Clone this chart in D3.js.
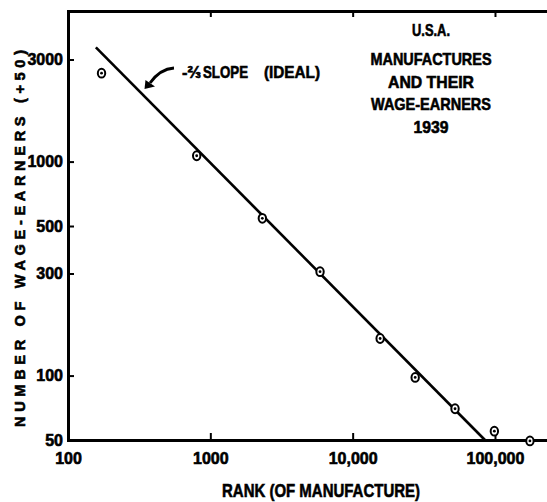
<!DOCTYPE html>
<html>
<head>
<meta charset="utf-8">
<script src="https://cdn.jsdelivr.net/npm/d3@7"></script>
<style>
  html, body { margin: 0; padding: 0; background: #fff; }
  svg { display: block; }
  text { font-family: "Liberation Sans", Arial, sans-serif; font-weight: bold; fill: #000; stroke: #000; stroke-width: 0.6px; }
</style>
</head>
<body>
<svg id="chart" width="547" height="502"></svg>
<script>
// Rank of manufacture vs. number of wage-earners (+50), U.S.A. 1939
const rankValues   = [172, 802, 2320, 5900, 15600, 27500, 52400, 99000, 176000];
const wageEarners  = [2590, 1065, 543, 306, 149, 98, 70, 55, 49.5];

// ideal -2/3 slope reference line (end points)
const idealRank    = [157, 85000];
const idealEarners = [3420, 50];

const xTickValues = [100, 1000, 10000, 100000];
const xTickLabels = ["100", "1000", "10,000", "100,000"];
const yTickValues = [50, 100, 300, 500, 1000, 3000];
const yTickLabels = ["50", "100", "300", "500", "1000", "3000"];

const titleLines = ["U.S.A.", "MANUFACTURES", "AND THEIR", "WAGE-EARNERS", "1939"];

const plotLeft = 68, plotTop = 11, plotBottom = 440, plotRight = 547;

const svg = d3.select("#chart");

const x = d3.scaleLog().domain([100, 232000]).range([plotLeft, plotRight]);
const y = d3.scaleLog().domain([50, 5055]).range([plotBottom, plotTop]);

// frame: left, top, bottom axes
const yAxis = d3.axisLeft(y)
  .tickValues(yTickValues)
  .tickFormat((d, i) => yTickLabels[i])
  .tickSizeInner(-6).tickSizeOuter(0).tickPadding(5);
const gy = svg.append("g").attr("transform", `translate(${plotLeft},0)`).call(yAxis);

const xAxis = d3.axisBottom(x)
  .tickValues(xTickValues)
  .tickFormat((d, i) => xTickLabels[i])
  .tickSizeInner(-7).tickSizeOuter(0).tickPadding(13);
const gx = svg.append("g").attr("transform", `translate(0,${plotBottom})`).call(xAxis);

const xTop = d3.axisTop(x)
  .tickValues(xTickValues.slice(1))
  .tickFormat("")
  .tickSizeInner(-6).tickSizeOuter(0);
const gt = svg.append("g").attr("transform", `translate(0,${plotTop})`).call(xTop);

[gx, gy, gt].forEach(g => {
  g.select(".domain").attr("stroke", "#000").attr("stroke-width", 3).attr("stroke-linecap", "square");
  g.selectAll(".tick line").attr("stroke", "#000").attr("stroke-width", 2);
  g.selectAll("text")
    .style("font-family", '"Liberation Sans", Arial, sans-serif')
    .style("font-weight", "bold")
    .attr("font-size", 16)
    .attr("fill", "#000")
    .attr("stroke", "#000")
    .attr("stroke-width", 0.6);
});
// the outermost ticks coincide with the frame corners
gy.selectAll(".tick line").filter(d => d === 50).remove();
gx.selectAll(".tick line").filter(d => d === 100).remove();

// ideal slope line
const line = d3.line().x(d => x(d[0])).y(d => y(d[1]));
svg.append("path")
  .datum(d3.zip(idealRank, idealEarners))
  .attr("d", line)
  .attr("fill", "none")
  .attr("stroke", "#000")
  .attr("stroke-width", 2.6);

// observed points: ringed dots
const pts = svg.append("g").selectAll("g")
  .data(d3.zip(rankValues, wageEarners))
  .join("g")
  .attr("transform", d => `translate(${x(d[0])},${y(d[1])})`);
pts.append("ellipse").attr("rx", 3.7).attr("ry", 4.4)
  .attr("fill", "#fff").attr("stroke", "#000").attr("stroke-width", 2);
pts.append("circle").attr("r", 1.4).attr("fill", "#000");

// annotation for the ideal line
const ann = svg.append("g");
ann.append("text").attr("x", 182).attr("y", 78).attr("font-size", 17)
  .attr("textLength", 19).attr("lengthAdjust", "spacingAndGlyphs").text("-⅔");
ann.append("text").attr("x", 203).attr("y", 78).attr("font-size", 17)
  .attr("textLength", 45).attr("lengthAdjust", "spacingAndGlyphs").text("SLOPE");
ann.append("text").attr("x", 264).attr("y", 78).attr("font-size", 17)
  .attr("textLength", 56).attr("lengthAdjust", "spacingAndGlyphs").text("(IDEAL)");
const ap = d3.path();
ap.moveTo(174, 68);
ap.quadraticCurveTo(160, 69, 150, 83);
ann.append("path").attr("d", ap.toString())
  .attr("fill", "none").attr("stroke", "#000").attr("stroke-width", 3);
ann.append("path").attr("d", "M144.5,89 L145.5,80 L155,86.5 Z").attr("fill", "#000");

// title block
const titleBase = [36, 65, 88, 110, 133];
const titleLen  = [38, 121, 86, 120, 35];
svg.append("g").selectAll("text")
  .data(titleLines)
  .join("text")
  .attr("x", 431)
  .attr("y", (d, i) => titleBase[i])
  .attr("text-anchor", "middle")
  .attr("font-size", 17)
  .attr("textLength", (d, i) => titleLen[i])
  .attr("lengthAdjust", "spacingAndGlyphs")
  .text(d => d);

// axis titles
svg.append("text")
  .attr("x", 321).attr("y", 496.5)
  .attr("text-anchor", "middle")
  .attr("font-size", 19)
  .attr("textLength", 198).attr("lengthAdjust", "spacingAndGlyphs")
  .text("RANK (OF MANUFACTURE)");

svg.append("text")
  .attr("transform", "translate(24.5,238.5) rotate(-90)")
  .attr("text-anchor", "middle")
  .attr("font-size", 14.5)
  .attr("textLength", 377).attr("lengthAdjust", "spacing")
  .text("NUMBER OF WAGE-EARNERS (+50)");
</script>
</body>
</html>
